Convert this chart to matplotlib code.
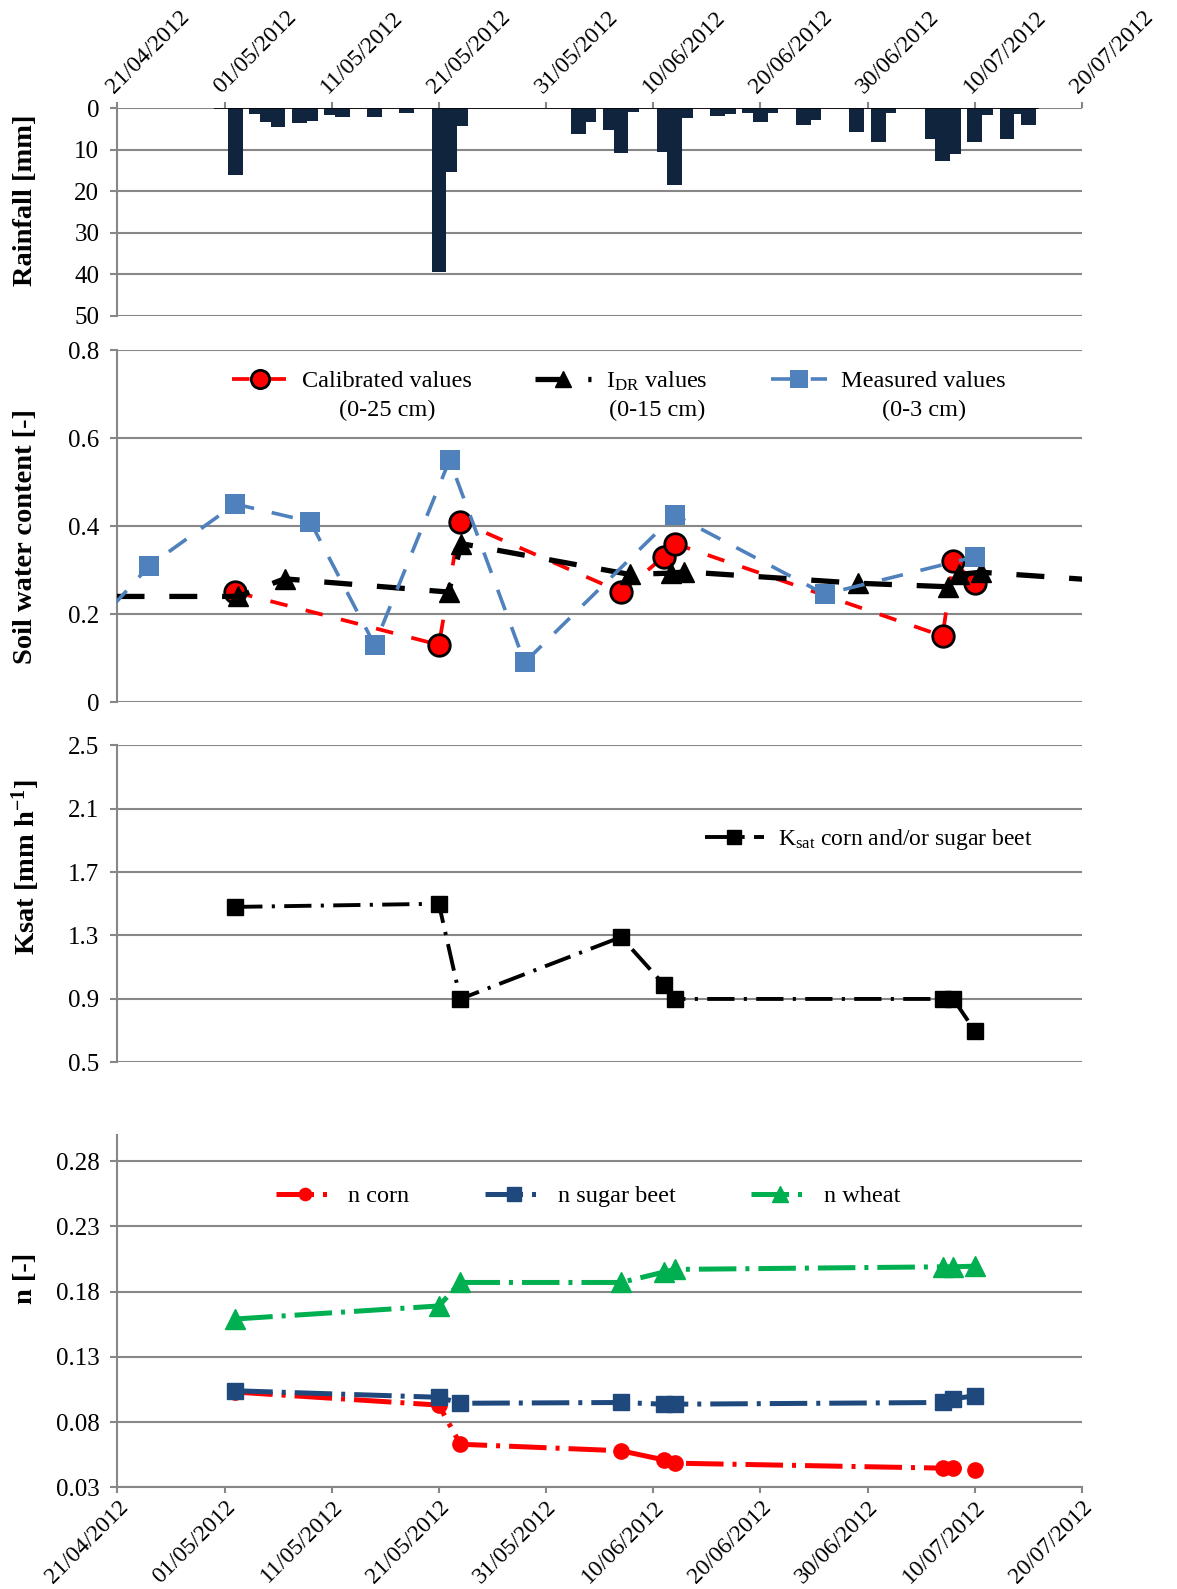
import matplotlib
matplotlib.use('Agg')
import matplotlib.pyplot as plt
from datetime import datetime, timedelta

plt.rcParams['font.family'] = ['Liberation Serif', 'DejaVu Serif']
plt.rcParams['mathtext.fontset'] = 'custom'
plt.rcParams['mathtext.rm'] = 'Liberation Serif'
plt.rcParams['mathtext.it'] = 'Liberation Serif:italic'
plt.rcParams['mathtext.bf'] = 'Liberation Serif:bold'

# ---------------- data ----------------
tick_labels = ['21/04/2012', '01/05/2012', '11/05/2012', '21/05/2012', '31/05/2012',
               '10/06/2012', '20/06/2012', '30/06/2012', '10/07/2012', '20/07/2012']
BASE = datetime(2012, 4, 21)

# rainfall (day offset from 21/04/2012, mm)
rain_day = [11, 13, 14, 15, 17, 18, 20, 21, 24, 27, 30, 31, 32, 43, 44, 46, 47, 48, 51, 52,
            53, 56, 57, 59, 60, 61, 64, 65, 69, 71, 72, 76, 77, 78, 80, 81, 83, 84, 85]
rain_mm = [16.1, 1.4, 3.4, 4.4, 3.6, 3.1, 1.7, 2.0, 2.2, 1.0, 39.4, 15.3, 4.2, 6.3, 3.4, 5.3, 10.8, 0.8, 10.5, 18.4,
           2.4, 1.9, 1.4, 1.0, 3.4, 1.0, 3.9, 2.7, 5.8, 8.0, 1.1, 7.4, 12.8, 11.0, 8.0, 1.6, 7.4, 1.4, 4.1]
rain_axis_span = [9, 86]

# soil water content
cal_day = [11, 30, 32, 47, 51, 52, 77, 78, 80]
cal_val = [0.25, 0.13, 0.41, 0.25, 0.33, 0.36, 0.15, 0.32, 0.27]
idr_day = [-5, 11.3, 15.6, 30.9, 32.1, 47.8, 51.7, 52.9, 69.1, 77.5, 78.5, 80.6, 95]
idr_val = [0.24, 0.24, 0.28, 0.25, 0.36, 0.29, 0.293, 0.296, 0.27, 0.262, 0.29, 0.295, 0.271]
mea_day = [-3, 3, 11, 18, 24, 31, 38, 52, 66, 80]
mea_val = [0.15, 0.31, 0.45, 0.41, 0.13, 0.55, 0.09, 0.425, 0.245, 0.33]

# Ksat and n
par_day = [11, 30, 32, 47, 51, 52, 77, 78, 80]
ksat_val = [1.48, 1.50, 0.90, 1.29, 0.99, 0.90, 0.90, 0.90, 0.70]
n_corn = [0.103, 0.093, 0.063, 0.058, 0.051, 0.0485, 0.0447, 0.0447, 0.043]
n_beet = [0.104, 0.099, 0.0944, 0.095, 0.0937, 0.0937, 0.095, 0.098, 0.100]
n_wheat = [0.159, 0.169, 0.187, 0.187, 0.195, 0.197, 0.199, 0.199, 0.1995]


def D(offsets):
    return [BASE + timedelta(days=float(o)) for o in offsets]


tick_dates = [datetime.strptime(s, '%d/%m/%Y') for s in tick_labels]

GRID = '#878787'
YTICKFS = 18
XTICKFS = 17
LEGFS = 17.5

fig = plt.figure(figsize=(11.77, 15.89), dpi=100)
L, W = 0.0997, 0.8195
ax1 = fig.add_axes([L, 0.8013, W, 0.1305])
ax2 = fig.add_axes([L, 0.5582, W, 0.2215])
ax3 = fig.add_axes([L, 0.3314, W, 0.1997])
ax4 = fig.add_axes([L, 0.0640, W, 0.2217])

for ax in (ax1, ax2, ax3, ax4):
    ax.set_xlim(tick_dates[0], tick_dates[-1])
    ax.set_xticks(tick_dates)
    for s in ('top', 'right', 'bottom'):
        ax.spines[s].set_visible(False)
    ax.spines['left'].set_color(GRID)
    ax.spines['left'].set_linewidth(1.5)
    ax.set_axisbelow(True)
    ax.grid(axis='y', color=GRID, lw=1.5)
    ax.grid(axis='x', visible=False)
    ax.tick_params(axis='y', direction='out', length=5, width=1.5, color=GRID,
                   labelsize=YTICKFS, pad=8)
    ax.set_facecolor('white')

# ---------------- panel 1: rainfall ----------------
ax1.bar(D(rain_day), rain_mm, width=1.37, color='#10243E', align='center', zorder=3)
ax1.hlines(0, D([rain_axis_span[0]])[0], D([rain_axis_span[1]])[0], color='black', lw=1.2, zorder=4)
ax1.set_ylim(50, 0)
ax1.set_yticks([0, 10, 20, 30, 40, 50])
ax1.set_yticklabels(['0', '10', '20', '30', '40', '50'])
ax1.set_xticklabels(tick_labels)
ax1.tick_params(axis='x', top=True, bottom=False, labeltop=True, labelbottom=False,
                direction='out', length=4.5, width=1.5, color=GRID, labelsize=XTICKFS, pad=3)
for t in ax1.get_xticklabels():
    t.set_rotation(45)
    t.set_ha('left')
    t.set_va('bottom')
    t.set_rotation_mode('anchor')

# ---------------- panel 2: soil water content ----------------
l_cal, = ax2.plot(D(cal_day), cal_val, color='#FF0000', lw=2.7, ls=(0, (4.7, 5)),
                  marker='o', ms=15.5, mfc='#FF0000', mec='black', mew=2, zorder=3,
                  label='Calibrated values')
l_idr, = ax2.plot(D(idr_day), idr_val, color='black', lw=3.8, ls=(0, (5.3, 4.7)),
                  marker='^', ms=14, markevery=list(range(1, len(idr_day) - 1)), zorder=4,
                  label='I$_{\\mathrm{DR}}$ values')
l_mea, = ax2.plot(D(mea_day), mea_val, color='#4F81BD', lw=2.6, ls=(0, (6, 5)),
                  marker='s', ms=15, mfc='#4F81BD', mec='#4F81BD', mew=0,
                  markevery=list(range(1, len(mea_day))), zorder=5, label='Measured values')
ax2.set_ylim(0, 0.8)
ax2.set_yticks([0, 0.2, 0.4, 0.6, 0.8])
ax2.set_yticklabels(['0', '0.2', '0.4', '0.6', '0.8'])
ax2.tick_params(axis='x', bottom=False, labelbottom=False)
leg2 = ax2.legend(handles=[l_cal, l_idr, l_mea], loc='center', bbox_to_anchor=(0.52, 0.912),
                  ncol=3, frameon=False, fontsize=LEGFS, handlelength=2.3, handletextpad=0.6,
                  columnspacing=2.6, numpoints=1, markerscale=0.85)
second_lines = ['(0-25 cm)', '(0-15 cm)', '(0-3 cm)']

# ---------------- panel 3: Ksat ----------------
l_ks, = ax3.plot(D(par_day), ksat_val, color='black', lw=2.8, ls=(0, (7, 2.4, 0.8, 2.4)),
                 marker='s', ms=12, mfc='black', mec='black', zorder=3,
                 label='K$_{\\mathrm{sat}}$ corn and/or sugar beet')
ax3.set_ylim(0.5, 2.5)
ax3.set_yticks([0.5, 0.9, 1.3, 1.7, 2.1, 2.5])
ax3.set_yticklabels(['0.5', '0.9', '1.3', '1.7', '2.1', '2.5'])
ax3.tick_params(axis='x', bottom=False, labelbottom=False)
ax3.legend(handles=[l_ks], loc='center', bbox_to_anchor=(0.779, 0.703), frameon=False,
           fontsize=17, handlelength=2.5, handletextpad=0.6, numpoints=1, markerscale=0.8)

# ---------------- panel 4: n ----------------
dd = (0, (7.5, 1.8, 0.8, 1.8))
l_c, = ax4.plot(D(par_day), n_corn, color='#FF0000', lw=3.6, ls=dd, marker='o', ms=11,
                mfc='#FF0000', mec='#FF0000', zorder=3, label='n corn')
l_b, = ax4.plot(D(par_day), n_beet, color='#1F497D', lw=3.6, ls=dd, marker='s', ms=12,
                mfc='#1F497D', mec='#1F497D', zorder=4, label='n sugar beet')
l_w, = ax4.plot(D(par_day), n_wheat, color='#00B050', lw=3.6, ls=dd, marker='^', ms=14,
                mfc='#00B050', mec='#00B050', zorder=5, label='n wheat')
ax4.set_ylim(0.03, 0.30)
ax4.set_yticks([0.03, 0.08, 0.13, 0.18, 0.23, 0.28])
ax4.set_yticklabels(['0.03', '0.08', '0.13', '0.18', '0.23', '0.28'])
ax4.spines['bottom'].set_visible(True)
ax4.spines['bottom'].set_color(GRID)
ax4.spines['bottom'].set_linewidth(1.5)
ax4.set_xticklabels(tick_labels)
ax4.tick_params(axis='x', direction='out', length=4.5, width=1.5, color=GRID,
                labelsize=XTICKFS, pad=2)
for t in ax4.get_xticklabels():
    t.set_rotation(45)
    t.set_ha('right')
    t.set_va('top')
    t.set_rotation_mode('anchor')
ax4.legend(handles=[l_c, l_b, l_w], loc='center', bbox_to_anchor=(0.488, 0.826), ncol=3,
           frameon=False, fontsize=LEGFS, handlelength=2.4, handletextpad=0.6,
           columnspacing=3.1, numpoints=1, markerscale=0.8)

# ---------------- y labels ----------------
FH = 1589.0
ylab = [('Rainfall [mm]', 200), ('Soil water content [-]', 536),
        ('Ksat [mm h$^{\\mathbf{-1}}$]', 867), ('n [-]', 1278)]
for txt, yc in ylab:
    fig.text(26 / 1177.0, 1 - yc / FH, txt, rotation=90, ha='center', va='center',
             fontsize=20.5, fontweight='bold')

# second lines of legend labels
fig.canvas.draw()
r = fig.canvas.get_renderer()
for t, s in zip(leg2.get_texts(), second_lines):
    bb = t.get_window_extent(r)
    xc = (bb.x0 + bb.x1) / 2.0
    fig.text(xc / fig.bbox.width, (bb.y0 - 7) / fig.bbox.height, s, ha='center', va='top',
             fontsize=LEGFS)

fig.savefig('out.png', dpi=100, facecolor='white')
